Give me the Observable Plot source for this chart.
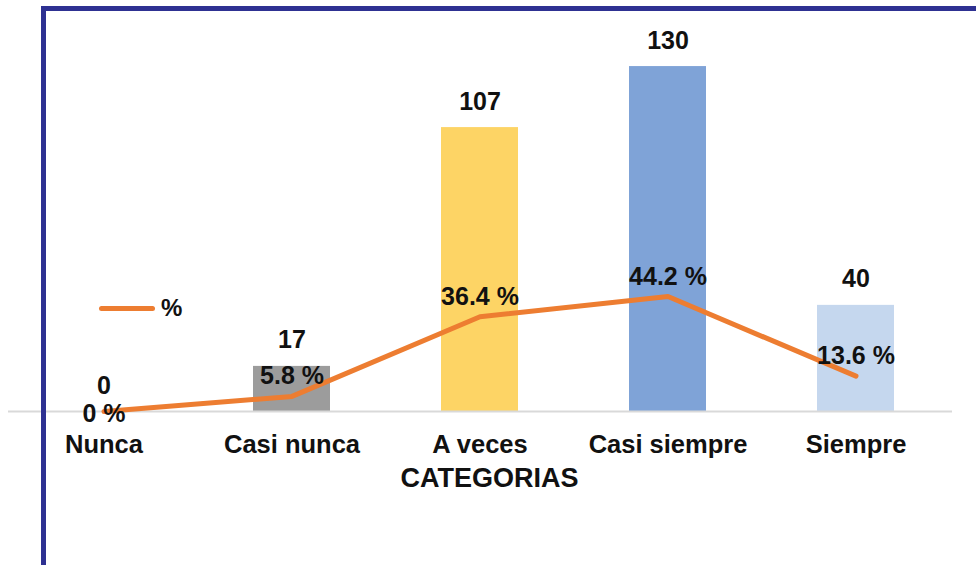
<!DOCTYPE html>
<html>
<head>
<meta charset="utf-8">
<script src="https://cdn.jsdelivr.net/npm/d3@7"></script>
<script src="https://cdn.jsdelivr.net/npm/@observablehq/plot@0.6"></script>
<style>
  html, body { margin: 0; padding: 0; background: #fff; }
  #wrap { position: relative; width: 976px; height: 565px; overflow: hidden; font-family: "Liberation Sans", Arial, sans-serif; }
  #frame { position: absolute; left: 41px; top: 6px; right: -10px; bottom: -10px; border-left: 5px solid #2e3192; border-top: 5px solid #2e3192; pointer-events: none; z-index: 2; }
  #legend { position: absolute; left: 99px; top: 294px; display: flex; align-items: center; z-index: 1; }
  #legend .sw { width: 56px; height: 5px; background: #ED7D31; border-radius: 3px; }
  #legend .lb { margin-left: 6px; font-weight: bold; font-size: 24px; color: #111; }
</style>
</head>
<body>
<div id="wrap">
  <div id="chart"></div>
  <div id="legend"><div class="sw"></div><div class="lb">%</div></div>
  <div id="frame"></div>
</div>
<script>
const categories = ["Nunca", "Casi nunca", "A veces", "Casi siempre", "Siempre"];
const counts = [0, 17, 107, 130, 40];
const percents = [0, 5.8, 36.4, 44.2, 13.6];
const percentLabels = ["0 %", "5.8 %", "36.4 %", "44.2 %", "13.6 %"];
const barColors = ["#a5a5a5", "#9c9c9c", "#FDD465", "#7FA3D7", "#C5D7EE"];
const axisTitle = "CATEGORIAS";

const yMax = 150;          // primary (count) axis max
const pctAxisMax = 153;    // hidden secondary (%) axis max

const rows = categories.map((c, i) => ({
  cat: c, count: counts[i], pct: percents[i], pctLabel: percentLabels[i],
  pctY: percents[i] * yMax / pctAxisMax, i
}));

const font = "Liberation Sans, Arial, sans-serif";

const chart = Plot.plot({
  width: 976,
  height: 565,
  marginTop: 13,
  marginBottom: 154,
  marginLeft: 8,
  marginRight: 24,
  style: { fontFamily: font, background: "transparent", color: "#111" },
  x: { domain: categories, paddingInner: 0.59, paddingOuter: 0.295, axis: null },
  y: { domain: [0, yMax], axis: null },
  color: { domain: categories, range: barColors },
  marks: [
    Plot.barY(rows, { x: "cat", y: "count", fill: "cat" }),
    Plot.ruleY([0], { stroke: "#d9d9d9", strokeWidth: 2 }),
    Plot.line(rows, { x: "cat", y: "pctY", stroke: "#ED7D31", strokeWidth: 5, strokeLinecap: "round", strokeLinejoin: "round" }),
    Plot.text(rows, { x: "cat", y: "count", text: d => String(d.count), dy: -26, fontSize: 25, fontWeight: "bold", fill: "#111", lineAnchor: "middle" }),
    Plot.text(rows.filter(d => d.i > 0), { x: "cat", y: "pctY", text: "pctLabel", dy: -20, fontSize: 25, fontWeight: "bold", fill: "#111", lineAnchor: "middle" }),
    Plot.text(rows.filter(d => d.i === 0), { x: "cat", y: "pctY", text: "pctLabel", dy: 2, fontSize: 25, fontWeight: "bold", fill: "#111", lineAnchor: "middle" }),
    Plot.axisX({ tickSize: 0, tickPadding: 23, fontSize: 25.5, fontWeight: "bold", label: null, fill: "#111" }),
    Plot.text([axisTitle], { frameAnchor: "bottom", dx: 9, dy: 67, text: d => d, fontSize: 27, fontWeight: "bold", fill: "#111", lineAnchor: "middle" })
  ]
});
document.getElementById("chart").append(chart);
</script>
</body>
</html>
